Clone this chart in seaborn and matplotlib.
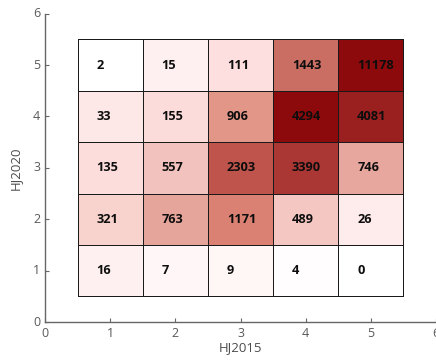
import numpy as np
import pandas as pd
import seaborn as sns
import matplotlib
matplotlib.use('Agg')
import matplotlib.pyplot as plt
from matplotlib.colors import LinearSegmentedColormap, PowerNorm

# HJ2020 rows (top to bottom), HJ2015 columns (left to right)
hj2020 = [5, 4, 3, 2, 1]
hj2015 = [1, 2, 3, 4, 5]
counts = [
    [2, 15, 111, 1443, 11178],
    [33, 155, 906, 4294, 4081],
    [135, 557, 2303, 3390, 746],
    [321, 763, 1171, 489, 26],
    [16, 7, 9, 4, 0],
]
tick_vals = [0, 1, 2, 3, 4, 5, 6]

df = pd.DataFrame(counts, index=hj2020, columns=hj2015)

# white -> dark red
cmap = LinearSegmentedColormap.from_list('wr', [
    (0.0, '#ffffff'),
    (0.025, '#ffffff'),
    (0.03, '#fffafa'),
    (0.09, '#fde6e6'),
    (0.19, '#fcdcda'),
    (0.27, '#f8d2cd'),
    (0.36, '#f2c3be'),
    (0.42, '#e6a59b'),
    (0.46, '#e19687'),
    (0.52, '#da8273'),
    (0.58, '#ca6e64'),
    (0.73, '#be554b'),
    (0.89, '#aa3734'),
    (0.975, '#9b2020'),
    (1.0, '#8c0a0c'),
])
norm = PowerNorm(0.5, vmin=0, vmax=4294)

plt.rcParams['font.family'] = ['Open Sans', 'DejaVu Sans']
fig = plt.figure(figsize=(4.36, 3.63), dpi=100)
ax = fig.add_axes([45 / 436, 0.1127, 391 / 436, 0.8496])

sns.heatmap(df, ax=ax, cmap=cmap, norm=norm, cbar=False,
            annot=True, fmt='d',
            annot_kws=dict(color='0.05', fontweight='bold', fontsize=9.2),
            linewidths=0.6, linecolor='0.1')

# labels sit left of the cell centre in the original
for t in ax.texts:
    x, y = t.get_position()
    t.set_position((x - 0.21, y))
    t.set_ha('left')

ax.set_xlim(-0.5, 5.5)
ax.set_ylim(5.5, -0.5)
ax.set_xticks([v - 0.5 for v in tick_vals])
ax.set_xticklabels([str(v) for v in tick_vals], rotation=0)
ax.set_yticks([5.5 - v for v in tick_vals])
ax.set_yticklabels([str(v) for v in tick_vals], rotation=0)

for s in ['left', 'bottom']:
    ax.spines[s].set_visible(True)
    ax.spines[s].set_color('0.4')
    ax.spines[s].set_linewidth(1)
for s in ['top', 'right']:
    ax.spines[s].set_visible(False)

ax.tick_params(direction='in', length=3, width=0.8, color='0.4',
               labelcolor='0.35', labelsize=9)
ax.set_xlabel('HJ2015', fontsize=9.5, color='0.3', labelpad=1)
ax.set_ylabel('HJ2020', fontsize=9.5, color='0.3', labelpad=8)

fig.savefig('out.png', dpi=100)
